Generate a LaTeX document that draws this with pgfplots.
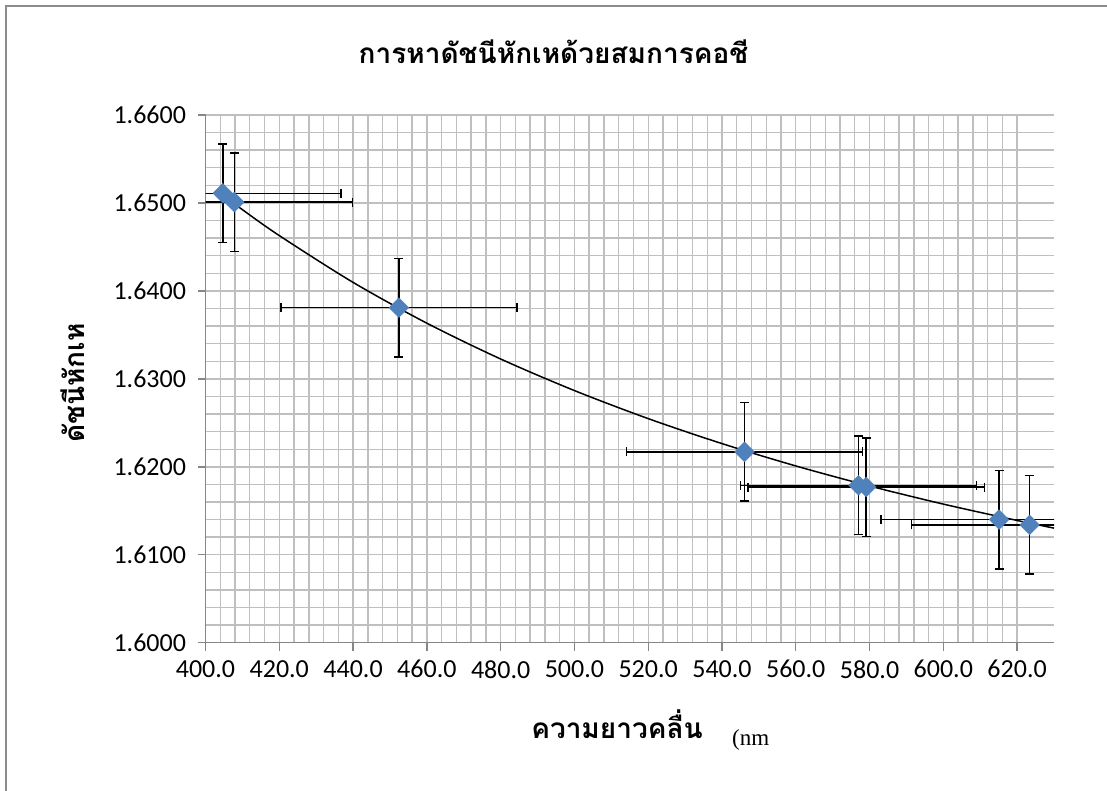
\documentclass[border=0pt]{standalone}
\usepackage{pgfplots}
\pgfplotsset{compat=1.18}
\usepackage{fontspec}
\setmainfont{Carlito}
\newfontfamily\thaifont[Script=Thai]{Loma}
\newfontfamily\serifnm{Liberation Serif}

\definecolor{markblue}{HTML}{4F81BD}
\definecolor{gridgray}{HTML}{BFBFBF}
\definecolor{axisgray}{HTML}{868686}
\definecolor{framegray}{HTML}{8C8C8C}

\begin{document}
\begin{tikzpicture}
% page area and chart frame
\path[use as bounding box] (0pt,0pt) rectangle (1107pt,-790pt);
\fill[white] (0pt,0pt) rectangle (1107pt,-790pt);
\draw[framegray, line width=1.6pt] (6pt,-800pt) -- (6pt,-6pt) -- (1120pt,-6pt);

\begin{axis}[
  at={(205.5pt,-642.7pt)}, anchor=south west,
  scale only axis, width=848.5pt, height=527.7pt,
  xmin=400, xmax=630, ymin=1.6, ymax=1.66,
  xtick={400,420,...,620},
  ytick={1.60,1.61,...,1.665},
  minor x tick num=4, minor y tick num=4,
  grid=both,
  major grid style={gridgray, line width=1.4pt},
  minor grid style={gridgray, line width=1.4pt},
  axis line style={axisgray, line width=1.4pt},
  axis x line*=bottom, axis y line*=left,
  tick style={axisgray, line width=1.4pt},
  major tick length=8pt, minor tick length=0pt,
  tick align=outside,
  xticklabel style={/pgf/number format/.cd, fixed, fixed zerofill, precision=1, 1000 sep={}},
  yticklabel style={/pgf/number format/.cd, fixed, fixed zerofill, precision=4},
  /pgf/number format/assume math mode=true,
  ticklabel style={font=\fontsize{26}{30}\selectfont, black},
  xticklabel shift=6pt, yticklabel shift=8pt,
]
% measured refractive index with error bars
\addplot[only marks, mark=square*, mark size=7pt,
  mark options={fill=markblue, draw=markblue, rotate=45},
  error bars/.cd, x dir=both, x explicit, y dir=both, y explicit,
  error bar style={black, line width=1.5pt},
  error mark=-,
  error mark options={rotate=90, draw=black, line width=1.5pt, mark size=4.5pt}]
  table[x=lam, y=n, x error=elam, y error=en] {
lam    n       elam  en
404.7  1.6511  32.0  0.0056
407.8  1.6501  32.0  0.0056
452.4  1.6381  32.0  0.0056
546.1  1.6217  32.0  0.0056
577.0  1.6179  32.0  0.0056
579.1  1.6177  32.0  0.0056
615.1  1.6140  32.0  0.0056
623.4  1.6134  32.0  0.0056
};
% Cauchy trend line
\addplot[black, line width=1.5pt, smooth] coordinates {
(404.7,1.65090) (410,1.64924) (420,1.64629) (440,1.64097) (460,1.63633)
(480,1.63226) (500,1.62867) (520,1.62548) (540,1.62264) (560,1.62010)
(580,1.61782) (600,1.61576) (620,1.61390) (630,1.61303)
};
\end{axis}

% titles
\node[anchor=base, inner sep=0pt] at (553.5pt,-63pt)
  {\thaifont\bfseries\fontsize{28}{32}\selectfont การหาดัชนีหักเหด้วยสมการคอชี};
\node[anchor=center, rotate=90, inner sep=0pt] at (73pt,-383pt)
  {\thaifont\bfseries\fontsize{28}{32}\selectfont ดัชนีหักเห};
\node[anchor=base, inner sep=0pt] at (617pt,-738pt)
  {\thaifont\bfseries\fontsize{28}{32}\selectfont ความยาวคลื่น};
\node[anchor=base west, inner sep=0pt] at (732pt,-745pt)
  {\serifnm\fontsize{23}{28}\selectfont (nm};
\end{tikzpicture}
\end{document}
